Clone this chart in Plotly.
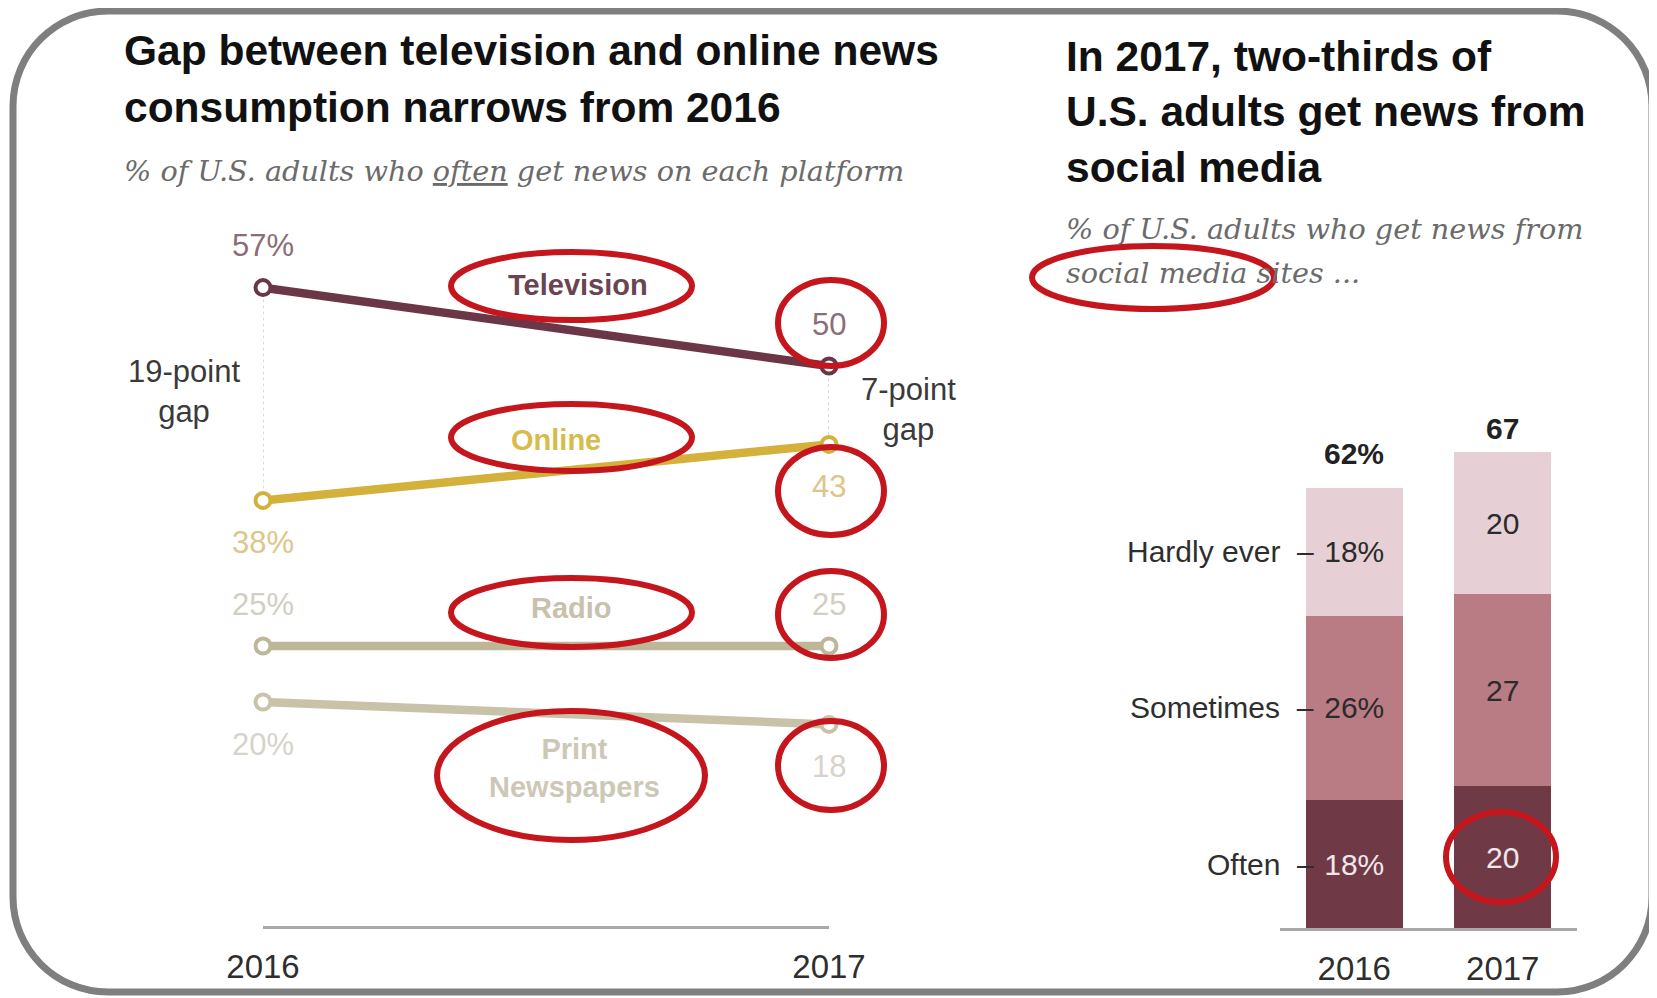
import plotly.graph_objects as go

W, H = 1657, 998

# ---------------- data ----------------
years = [2016, 2017]
year_labels = ["2016", "2017"]

television = [57, 50]
online = [38, 43]
radio = [25, 25]
newspapers = [20, 18]

social_years = ["2016", "2017"]
often = [18, 20]
sometimes = [26, 27]
hardly_ever = [18, 20]
social_total = [62, 67]
freq_labels = ["Often", "Sometimes", "Hardly ever"]

# ---------------- helpers ----------------
OFF = 8  # page body margin compensation


def fx(p):
    return (p - OFF) / W


def fy(p):
    return 1 - (p - OFF) / H


SANS = "Liberation Sans, Arial, sans-serif"
SERIF = "DejaVu Serif, Georgia, serif"
LAB = 31

fig = go.Figure()

# ---------- left: line chart ----------
for i in range(len(years)):
    fig.add_trace(go.Scatter(x=[years[i], years[i]], y=[television[i], online[i]], mode="lines",
                             line=dict(color="#cfcfcf", width=1.5, dash="dot"), hoverinfo="skip",
                             showlegend=False, xaxis="x", yaxis="y"))

series = [
    ("Television", television, "#6b3646", "#8a6d77", 1),
    ("Online", online, "#d3b13a", "#dcc68a", -1),
    ("Radio", radio, "#bdb698", "#d2cec2", 1),
    ("Print Newspapers", newspapers, "#c8c2a9", "#d6d3ca", -1),
]

annotations = []
for name, vals, col, lab_col, side in series:
    fig.add_trace(go.Scatter(x=years, y=vals, mode="lines+markers", name=name,
                             line=dict(color=col, width=8.5),
                             marker=dict(size=15, color="white", line=dict(color=col, width=4)),
                             cliponaxis=False, showlegend=False, xaxis="x", yaxis="y"))
    for i, v in enumerate(vals):
        annotations.append(dict(x=years[i], y=v, xref="x", yref="y",
                                text=(f"{v}%" if i == 0 else f"{v}"), showarrow=False,
                                yshift=42 * side, font=dict(family=SANS, size=LAB, color=lab_col)))

# series names
name_pos = [
    ("<b>Television</b>", 578, 285, "#6a4451"),
    ("<b>Online</b>", 556, 440, "#d6bc4c"),
    ("<b>Radio</b>", 571, 608, "#c8c1ad"),
    ("<b>Print<br>Newspapers</b>", 574, 768, "#cdc8b5"),
]
for t, x, y, c in name_pos:
    annotations.append(dict(x=fx(x), y=fy(y), xref="paper", yref="paper", text=t, showarrow=False,
                            xanchor="center", yanchor="middle",
                            font=dict(family=SANS, size=29, color=c)))

# gap labels
annotations.append(dict(x=fx(184), y=fy(391), xref="paper", yref="paper", text="19-point<br>gap",
                        showarrow=False, xanchor="center", yanchor="middle",
                        font=dict(family=SANS, size=LAB, color="#3a3a3a")))
annotations.append(dict(x=fx(909), y=fy(409), xref="paper", yref="paper", text="7-point<br>gap",
                        showarrow=False, xanchor="center", yanchor="middle",
                        font=dict(family=SANS, size=LAB, color="#3a3a3a")))

# ---------- right: stacked bars ----------
seg = [
    ("Often", often, "#6f3a46", "#f3e6ea"),
    ("Sometimes", sometimes, "#b97b84", "#2b2b2b"),
    ("Hardly ever", hardly_ever, "#e6d0d6", "#2b2b2b"),
]
for name, vals, col, tcol in seg:
    fig.add_trace(go.Bar(x=social_years, y=vals, name=name, marker=dict(color=col, line=dict(width=0)),
                         text=[f"{v}%" if i == 0 else f"{v}" for i, v in enumerate(vals)],
                         textposition="inside", insidetextanchor="middle", textangle=0,
                         textfont=dict(family=SANS, size=30, color=tcol),
                         showlegend=False, xaxis="x2", yaxis="y2"))

total_shift = [34, 24]
for i, t in enumerate(social_total):
    annotations.append(dict(x=i, y=t, xref="x2", yref="y2",
                            text=f"<b>{t}%</b>" if i == 0 else f"<b>{t}</b>", showarrow=False,
                            yshift=total_shift[i], font=dict(family=SANS, size=30, color="#222222")))

mids = [often[0] / 2, often[0] + sometimes[0] / 2, often[0] + sometimes[0] + hardly_ever[0] / 2]
for lab, m in zip(freq_labels, mids):
    annotations.append(dict(x=fx(1316), y=m, xref="paper", yref="y2",
                            text=f"{lab}\u00a0\u00a0\u2013",
                            showarrow=False, xanchor="right", yanchor="middle",
                            font=dict(family=SANS, size=30, color="#2e2e2e")))

# ---------- titles ----------
title_lines = [
    ("Gap between television and online news", 122, 50),
    ("consumption narrows from 2016", 122, 108),
    ("In 2017, two-thirds of", 1064, 56),
    ("U.S. adults get news from", 1064, 111),
    ("social media", 1064, 167),
]
for t, x, y in title_lines:
    annotations.append(dict(x=fx(x), y=fy(y), xref="paper", yref="paper", text=f"<b>{t}</b>",
                            showarrow=False, xanchor="left", yanchor="middle",
                            font=dict(family=SANS, size=42.5, color="#111111")))

sub_lines = [
    ("% of U.S. adults who <u>often</u> get news on each platform", 122, 171),
    ("% of U.S. adults who get news from", 1064, 229),
    ("social media sites ...", 1064, 273),
]
for t, x, y in sub_lines:
    annotations.append(dict(x=fx(x), y=fy(y), xref="paper", yref="paper", text=f"<i>{t}</i>",
                            showarrow=False, xanchor="left", yanchor="middle",
                            font=dict(family=SERIF, size=28.7, color="#6b6b6b")))

# ---------- shapes: border and red emphasis ----------
L, T, R, B, r = 13, 11, 1652, 992, 95
k = 0.5523 * r
pts = [
    f"M {fx(L + r)},{fy(T)}",
    f"L {fx(R - r)},{fy(T)}",
    f"C {fx(R - r + k)},{fy(T)} {fx(R)},{fy(T + r - k)} {fx(R)},{fy(T + r)}",
    f"L {fx(R)},{fy(B - r)}",
    f"C {fx(R)},{fy(B - r + k)} {fx(R - r + k)},{fy(B)} {fx(R - r)},{fy(B)}",
    f"L {fx(L + r)},{fy(B)}",
    f"C {fx(L + r - k)},{fy(B)} {fx(L)},{fy(B - r + k)} {fx(L)},{fy(B - r)}",
    f"L {fx(L)},{fy(T + r)}",
    f"C {fx(L)},{fy(T + r - k)} {fx(L + r - k)},{fy(T)} {fx(L + r)},{fy(T)}",
    "Z",
]
shapes = [dict(type="path", path=" ".join(pts), xref="paper", yref="paper",
               line=dict(color="#7f7f7f", width=7), fillcolor="rgba(0,0,0,0)", layer="above")]

red_boxes = [
    (451, 252, 692, 320), (778, 280, 884, 366),
    (451, 404, 692, 471), (778, 447, 884, 535),
    (451, 578, 692, 647), (778, 571, 884, 658),
    (437, 711, 705, 840), (778, 721, 884, 810),
    (1032, 246, 1274, 309), (1446, 812, 1556, 902),
]
for x0, y0, x1, y1 in red_boxes:
    shapes.append(dict(type="circle", xref="paper", yref="paper", x0=fx(x0), x1=fx(x1),
                       y0=fy(y1), y1=fy(y0), line=dict(color="#c4161c", width=6), layer="above"))

fig.update_layout(
    width=W, height=H, margin=dict(l=0, r=0, t=0, b=0, pad=0, autoexpand=False),
    paper_bgcolor="white", plot_bgcolor="white",
    barmode="stack", bargap=0.35, showlegend=False,
    xaxis=dict(domain=[fx(263), fx(829)], range=[2016, 2017], tickvals=years, ticktext=year_labels,
               showline=True, linecolor="#a9a9a9", linewidth=3, showgrid=False, zeroline=False,
               ticks="", ticklabelstandoff=9, tickfont=dict(family=SANS, size=33, color="#2e2e2e"),
               automargin=False, anchor="y"),
    yaxis=dict(domain=[fy(926), fy(926 - 60 * 11.2)], range=[0, 60], visible=False, anchor="x",
               automargin=False),
    xaxis2=dict(domain=[fx(1280), fx(1577)], type="category", range=[-0.5, 1.5], showline=True,
                linecolor="#a9a9a9", linewidth=3, showgrid=False, zeroline=False, ticks="",
                ticklabelstandoff=9, tickfont=dict(family=SANS, size=33, color="#2e2e2e"),
                automargin=False, anchor="y2"),
    yaxis2=dict(domain=[fy(928), fy(928 - 70 * 7.1)], range=[0, 70], visible=False, anchor="x2",
                automargin=False),
    annotations=annotations,
    shapes=shapes,
)

fig.write_html("out.html")
